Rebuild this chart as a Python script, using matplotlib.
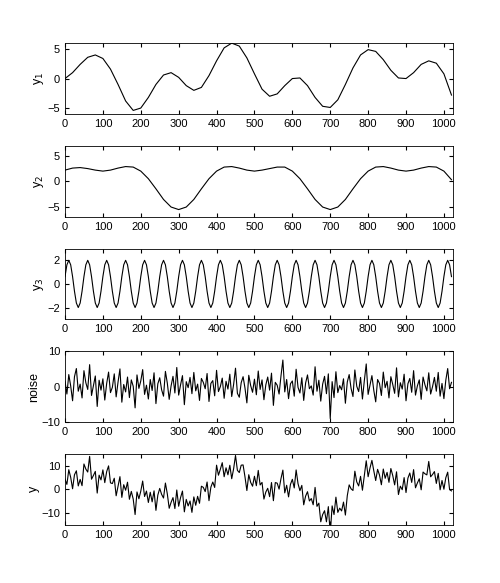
import numpy as np
import matplotlib.pyplot as plt

# y1, y2 every 20 samples
x_coarse = list(range(0, 1021, 20))
y1_vals = [0, 1.0, 2.4, 3.6, 4.0, 3.4, 1.6, -1.0, -3.8, -5.4, -5.0, -3.2, -1.0, 0.6, 1.0, 0.2,
           -1.2, -2.0, -1.5, 0.5, 3.0, 5.2, 6.0, 5.5, 3.5, 0.8, -1.8, -3.0, -2.6, -1.2, 0.0, 0.1,
           -1.2, -3.2, -4.7, -4.9, -3.6, -1.0, 1.8, 4.0, 4.9, 4.6, 3.2, 1.4, 0.1, 0.0, 1.0, 2.4,
           3.0, 2.6, 0.8, -2.8]
y2_vals = [2.2, 2.6, 2.7, 2.5, 2.2, 2.0, 2.2, 2.6, 2.9, 2.8, 2.0, 0.5, -1.5, -3.6, -5.1, -5.6,
           -5.1, -3.6, -1.5, 0.5, 2.0, 2.8, 2.9, 2.6, 2.2, 2.0, 2.2, 2.5, 2.8, 2.8, 2.0, 0.5,
           -1.5, -3.6, -5.1, -5.6, -5.1, -3.6, -1.5, 0.5, 2.0, 2.8, 2.9, 2.6, 2.2, 2.0, 2.2, 2.6,
           2.9, 2.8, 2.0, 0.3]

# one period (50 samples) of y3, sampled every 5
y3_period = [0.62, 1.62, 2.0, 1.62, 0.62, -0.62, -1.62, -2.0, -1.62, -0.62]

# noise read every 5 samples
noise_vals = [
    1.5, -2.1, 3.4, 0.2, -4.0, 2.8, 5.1, -1.3, 0.7, -3.2, 4.5, 1.1, -0.8, 6.2, -2.5, 0.3, 3.0, -5.6, 1.8, -1.0,
    2.2, -3.8, 0.9, 4.1, -1.7, -0.2, 3.6, -2.9, 1.3, 5.0, -4.4, 0.6, -1.5, 2.7, -3.1, 1.9, 0.1, -6.0, 3.3, -0.5,
    1.6, 4.8, -2.2, 0.4, -3.5, 2.0, -1.1, 3.9, -4.8, 0.8, 2.5, -0.9, -2.7, 4.3, 1.0, -3.6, 0.2, 2.9, -1.8, 5.4,
    -2.4, 0.5, 3.1, -5.1, 1.4, -0.3, 2.6, -2.0, 4.0, -1.2, 0.7, -3.9, 2.3, 1.2, -0.6, 3.7, -4.2, 0.9, 1.7, -2.6,
    4.6, -1.4, 0.0, 2.4, -3.3, 1.5, -0.7, 3.5, -2.8, 0.6, 5.2, -1.9, -3.0, 1.1, 2.8, -0.4, -4.6, 3.2, 0.3, -1.6,
    2.1, -2.3, 4.4, -0.8, 1.9, -3.7, 0.5, 2.7, -1.0, 3.8, -5.3, 1.2, 0.4, -2.1, 3.0, 7.5, -1.5, 2.0, -3.4, 0.8,
    1.6, -2.7, 4.9, -0.2, -1.8, 2.5, -3.9, 1.0, 3.3, -0.6, 0.2, -2.4, 5.6, -1.3, 1.8, -4.1, 0.7, 2.9, -2.0, 3.6,
    -9.0, 1.4, -3.1, 4.2, -1.7, 0.3, -0.9, 2.2, -4.7, 1.3, 3.4, -0.5, -2.8, 4.7, 0.1, -1.4, 2.6, -3.5, 1.7, 6.4,
    -2.2, 0.4, 3.1, -1.1, -4.3, 2.0, 0.9, -2.5, 4.1, -0.3, 1.5, -3.2, 2.8, 0.6, -1.9, 5.3, -2.9, 1.1, -0.7, 3.5,
    -4.0, 0.8, 2.3, -1.6, 4.5, -2.4, 0.2, 1.9, -3.6, 2.7, 0.5, -1.2, 3.9, -2.1, 0.0, 2.6, -1.3, 4.0, -2.7, 0.9,
    -3.4, 1.8, 5.1, -0.6, 1.2,
]

xn = np.arange(len(noise_vals)) * 5
y1_f = np.interp(xn, x_coarse, y1_vals)
y2_f = np.interp(xn, x_coarse, y2_vals)
y3_f = np.tile(y3_period, len(noise_vals) // len(y3_period) + 1)[:len(noise_vals)]
y_sum = y1_f + y2_f + y3_f + np.array(noise_vals)

plt.rcParams['font.family'] = 'Liberation Sans'
fig, axes = plt.subplots(5, 1, figsize=(5.0, 5.83), dpi=100)
fig.subplots_adjust(left=0.13, right=0.906, top=0.926, bottom=0.1, hspace=0.45)

series = [
    (x_coarse, y1_vals, 'y$_1$', (-6, 6), [-5, 0, 5]),
    (x_coarse, y2_vals, 'y$_2$', (-7, 7), [-5, 0, 5]),
    (xn, y3_f, 'y$_3$', (-3, 3), [-2, 0, 2]),
    (xn, noise_vals, 'noise', (-10, 10), [-10, 0, 10]),
    (xn, y_sum, 'y', (-15, 15), [-10, 0, 10]),
]
for ax, (xs, ys, lab, lim, yt) in zip(axes, series):
    ax.plot(xs, ys, color='black', lw=0.8)
    ax.set_xlim(0, 1024)
    ax.set_ylim(*lim)
    ax.set_yticks(yt)
    ax.set_xticks(range(0, 1001, 100))
    ax.set_ylabel(lab, fontsize=9, labelpad=1)
    ax.tick_params(direction='in', labelsize=8, length=3, top=True, right=True,
                   labeltop=False, labelright=False)
    for s in ax.spines.values():
        s.set_linewidth(0.6)

fig.savefig('out.png')
